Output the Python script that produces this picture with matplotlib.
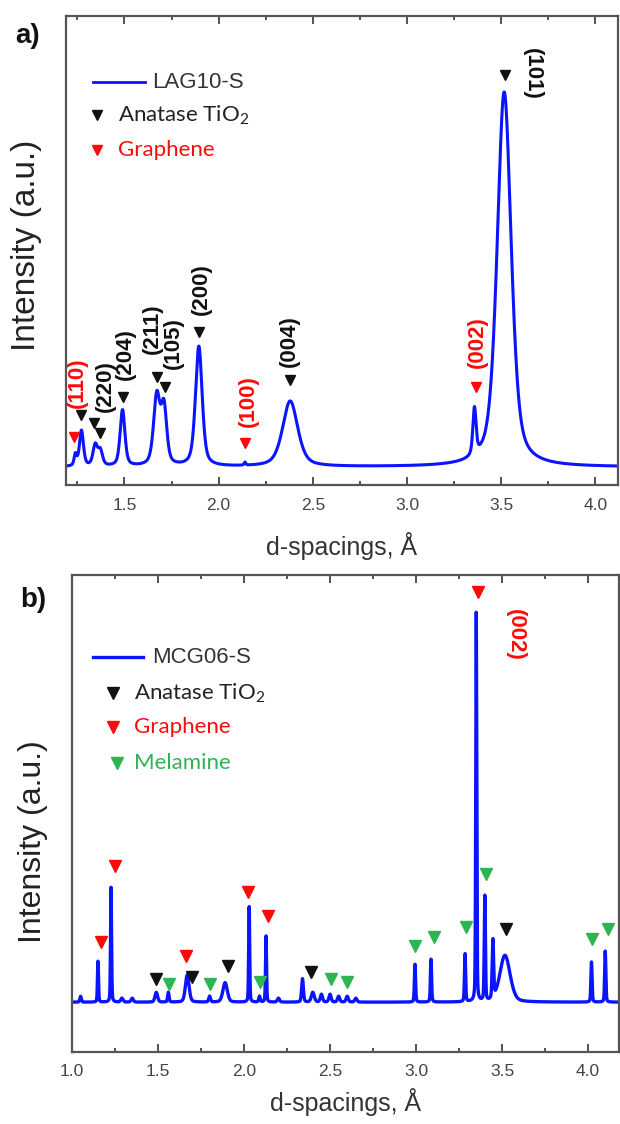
import numpy as np
import matplotlib
matplotlib.use('Agg')
import matplotlib.pyplot as plt

# ---------------- Panel a data (LAG10-S) ----------------
peak_pos_a = [1.240, 1.272, 1.345, 1.372, 1.490, 1.672, 1.710, 1.895, 2.140, 2.380, 3.358, 3.516]
peak_h_a   = [3.0,   9.5,   5.5,   4.0,   15.0,  18.5,  15.0,  32.0,  0.8,   17.5,  12.5,  100.0]
peak_w_a   = [0.016, 0.025, 0.028, 0.028, 0.030, 0.040, 0.035, 0.042, 0.010, 0.095, 0.020, 0.088]

mark_d_a   = [1.232, 1.272, 1.336, 1.373, 1.490, 1.675, 1.717, 1.897, 2.140, 2.378, 3.368, 3.520]
mark_h_a   = [8.0,   13.9,  11.7,  9.1,   18.7,  24.0,  21.3,  36.0,  6.4,   23.2,  21.3,  104.5]
mark_c_a   = ['r', 'k', 'k', 'k', 'k', 'k', 'k', 'k', 'r', 'k', 'r', 'k']

lab_txt_a  = ['(110)', '(220)', '(204)', '(211)', '(105)', '(200)', '(100)', '(004)', '(002)', '(101)']
lab_d_a    = [1.250, 1.400, 1.505, 1.650, 1.760, 1.907, 2.156, 2.378, 3.373, 3.664]
lab_h_a    = [22.4,  21.6,  30.0,  37.0,  33.0,  47.5,  17.6,  33.6,  33.3,  104.8]
lab_c_a    = ['r', 'k', 'k', 'k', 'k', 'k', 'r', 'k', 'r', 'k']
lab_rot_a  = [90, 90, 90, 90, 90, 90, 90, 90, 90, -90]

# ---------------- Panel b data (MCG06-S) ----------------
peak_pos_b = [1.050, 1.151, 1.227, 1.290, 1.350, 1.490, 1.560, 1.670, 1.800, 1.890, 2.030, 2.090,
              2.128, 2.200, 2.340, 2.400, 2.450, 2.500, 2.550, 2.600, 2.650, 2.994, 3.087, 3.285,
              3.350, 3.400, 3.447, 3.517, 4.020, 4.100]
peak_h_b   = [1.5, 10.5, 29.5, 1.0, 1.0, 2.5, 2.5, 7.0, 1.5, 5.0, 24.5, 1.5,
              17.0, 1.0, 6.0, 2.5, 2.0, 2.0, 1.5, 1.5, 1.0, 9.7, 11.0, 12.3,
              100.0, 27.0, 15.0, 12.0, 10.3, 13.1]
peak_w_b   = [0.010, 0.007, 0.007, 0.015, 0.015, 0.018, 0.010, 0.025, 0.012, 0.030, 0.007, 0.010,
              0.007, 0.015, 0.012, 0.020, 0.015, 0.015, 0.015, 0.015, 0.015, 0.008, 0.008, 0.008,
              0.007, 0.008, 0.010, 0.070, 0.008, 0.008]

mark_d_b = [1.169, 1.250, 1.488, 1.564, 1.663, 1.698, 1.800, 1.907, 2.023, 2.093, 2.140, 2.390,
            2.506, 2.600, 2.994, 3.105, 3.290, 3.360, 3.407, 3.523, 4.023, 4.116]
mark_h_b = [15.4, 34.9, 5.9, 4.6, 11.8, 6.4, 4.6, 9.2, 28.2, 5.1, 22.0, 7.7,
            5.9, 5.1, 14.4, 16.7, 19.2, 105.4, 32.8, 18.7, 16.2, 18.7]
mark_c_b = ['r', 'r', 'k', 'g', 'r', 'k', 'g', 'k', 'r', 'g', 'r', 'k',
            'g', 'g', 'g', 'g', 'g', 'r', 'g', 'k', 'g', 'g']

lab_txt_b = ['(002)']
lab_d_b   = [3.575]
lab_h_b   = [94.4]
lab_c_b   = ['r']
lab_rot_b = [-90]

xticks = [1.0, 1.5, 2.0, 2.5, 3.0, 3.5, 4.0]
xticklabels = ['1.0', '1.5', '2.0', '2.5', '3.0', '3.5', '4.0']
xminor = [1.25, 1.75, 2.25, 2.75, 3.25, 3.75]

COL = {'k': '#111111', 'r': '#ff0a0a', 'g': '#2db553'}
LINE = '#0a14ff'


def profile(x, pos, h, w, eta):
    y = np.zeros_like(x)
    for p, a, f in zip(pos, h, w):
        dx = (x - p) / f
        g = np.exp(-4 * np.log(2) * dx ** 2)
        lo = 1.0 / (1.0 + 4 * dx ** 2)
        y += a * (eta * lo + (1 - eta) * g)
    return y


fig = plt.figure(figsize=(6.2, 11.24), dpi=100)
axa = fig.add_axes([66 / 620, 1 - 485 / 1124, 552 / 620, 469 / 1124])
axb = fig.add_axes([72 / 620, 1 - 1052 / 1124, 547 / 620, 477 / 1124])

LAB_FONT = 'Liberation Sans'


def style_axis(ax, xlim, ylim):
    ax.set_yticks([])
    ax.set_xticks(xticks)
    ax.set_xticklabels(xticklabels)
    ax.set_xticks(xminor, minor=True)
    ax.set_xlim(*xlim)
    ax.set_ylim(*ylim)
    ax.tick_params(axis='x', which='both', direction='in', top=True, bottom=True,
                   color='#444444', width=1.3)
    ax.tick_params(axis='x', which='major', length=6, pad=9, labelsize=12.5,
                   labelcolor='#444444')
    ax.tick_params(axis='x', which='minor', length=3)
    for lbl in ax.get_xticklabels():
        lbl.set_family(LAB_FONT)
    for s in ax.spines.values():
        s.set_color('#555555')
        s.set_linewidth(1.6)


# Panel a
xa = np.linspace(1.15, 4.2, 8000)
ya = profile(xa, peak_pos_a, peak_h_a, peak_w_a, 0.5)
axa.plot(xa, ya, color=LINE, lw=2.2)
style_axis(axa, (1.19, 4.12), (-4.8, 120.3))
for d, h, c in zip(mark_d_a, mark_h_a, mark_c_a):
    axa.plot(d, h, marker='v', ms=7, color=COL[c], ls='none')
for t, d, h, c, r in zip(lab_txt_a, lab_d_a, lab_h_a, lab_c_a, lab_rot_a):
    axa.text(d, h, t, rotation=r, ha='center', va='center', fontsize=16,
             fontweight='bold', family=LAB_FONT, color=COL[c])

# legend a (drawn manually)
axa.plot([0.049, 0.143], [0.859, 0.859], transform=axa.transAxes, color=LINE, lw=2.0)
axa.text(0.156, 0.859, 'LAG10-S', transform=axa.transAxes, ha='left', va='center',
         fontsize=16, family=LAB_FONT, color='#333333')
axa.plot(0.056, 0.789, marker='v', ms=7, color=COL['k'], transform=axa.transAxes)
axa.text(0.094, 0.789, r'Anatase TiO$_\mathregular{2}$', transform=axa.transAxes,
         ha='left', va='center', fontsize=16, family='Lato', color='#222222')
axa.plot(0.056, 0.714, marker='v', ms=7, color=COL['r'], transform=axa.transAxes)
axa.text(0.094, 0.714, 'Graphene', transform=axa.transAxes, ha='left', va='center',
         fontsize=16, family='Lato', color=COL['r'])

# Panel b
xb = np.linspace(0.95, 4.25, 12000)
yb = profile(xb, peak_pos_b, peak_h_b, peak_w_b, 0.3)
axb.plot(xb, yb, color=LINE, lw=2.4)
style_axis(axb, (1.0, 4.18), (-12.8, 109.7))
for d, h, c in zip(mark_d_b, mark_h_b, mark_c_b):
    axb.plot(d, h, marker='v', ms=9, color=COL[c], ls='none')
for t, d, h, c, r in zip(lab_txt_b, lab_d_b, lab_h_b, lab_c_b, lab_rot_b):
    axb.text(d, h, t, rotation=r, ha='center', va='center', fontsize=16,
             fontweight='bold', family=LAB_FONT, color=COL[c])

axb.plot([0.038, 0.130], [0.828, 0.828], transform=axb.transAxes, color=LINE, lw=2.4)
axb.text(0.146, 0.828, 'MCG06-S', transform=axb.transAxes, ha='left', va='center',
         fontsize=16, family=LAB_FONT, color='#333333')
axb.plot(0.075, 0.753, marker='v', ms=8, color=COL['k'], transform=axb.transAxes)
axb.text(0.113, 0.753, r'Anatase TiO$_\mathregular{2}$', transform=axb.transAxes,
         ha='left', va='center', fontsize=16, family='Lato', color='#222222')
axb.plot(0.075, 0.681, marker='v', ms=8, color=COL['r'], transform=axb.transAxes)
axb.text(0.113, 0.681, 'Graphene', transform=axb.transAxes, ha='left', va='center',
         fontsize=16, family='Lato', color=COL['r'])
axb.plot(0.082, 0.606, marker='v', ms=8, color=COL['g'], transform=axb.transAxes)
axb.text(0.113, 0.606, 'Melamine', transform=axb.transAxes, ha='left', va='center',
         fontsize=16, family='Lato', color=COL['g'])

# axis labels and panel letters
fig.text(27 / 620, 1 - 245 / 1124, 'Intensity (a.u.)', rotation=90, ha='center',
         va='center', fontsize=24, family=LAB_FONT, color='#222222')
fig.text(33 / 620, 1 - 842 / 1124, 'Intensity (a.u.)', rotation=90, ha='center',
         va='center', fontsize=23, family=LAB_FONT, color='#222222')
fig.text(342 / 620, 1 - 546 / 1124, 'd-spacings, Å', ha='center', va='center',
         fontsize=18, family=LAB_FONT, color='#333333')
fig.text(346 / 620, 1 - 1102 / 1124, 'd-spacings, Å', ha='center', va='center',
         fontsize=18, family=LAB_FONT, color='#333333')
fig.text(28 / 620, 1 - 36 / 1124, 'a)', ha='center', va='center', fontsize=20,
         fontweight='bold', family=LAB_FONT, color='#111111')
fig.text(33 / 620, 1 - 600 / 1124, 'b)', ha='center', va='center', fontsize=20,
         fontweight='bold', family=LAB_FONT, color='#111111')

fig.savefig('out.png', dpi=100)
